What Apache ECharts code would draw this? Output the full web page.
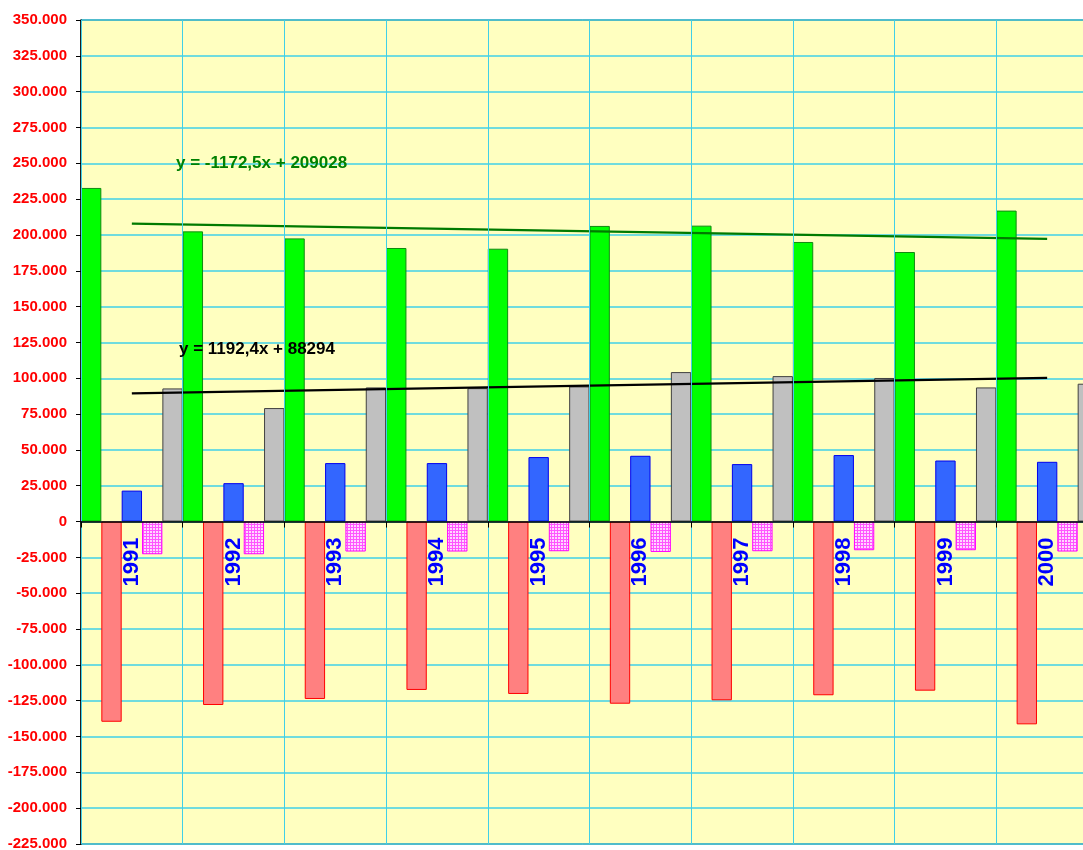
<!DOCTYPE html>
<html>
<head>
<meta charset="utf-8">
<script src="https://cdn.jsdelivr.net/npm/echarts@6/dist/echarts.min.js"></script>
<style>
html,body{margin:0;padding:0;background:#ffffff;}
#chart{width:1083px;height:850px;}
</style>
</head>
<body>
<div id="chart"></div>
<script>
// ---- data ----
var years = ['1991','1992','1993','1994','1995','1996','1997','1998','1999','2000'];
var greenValues = [232800, 202500, 197600, 190900, 190400, 206300, 206500, 195100, 188100, 217000];
var redValues   = [-139700, -128000, -123800, -117500, -120300, -127100, -124700, -121200, -118000, -141500];
var blueValues  = [21600, 26800, 40800, 40800, 45000, 45900, 40100, 46400, 42600, 41700];
var pinkValues  = [-22800, -22800, -20900, -20900, -20700, -21200, -20700, -20000, -20000, -20900];
var greyValues  = [92900, 79200, 93600, 93100, 94300, 104300, 101500, 100200, 93600, 96200];
// trend line end points (first and last category)
var greenTrend = [207855, 197303];
var blackTrend = [89486, 100218];
var greenEquation = 'y = -1172,5x + 209028';
var blackEquation = 'y = 1192,4x + 88294';
var yMin = -225000, yMax = 350000, yStep = 25000;

// ---- pattern for the dotted pink series ----
var pc = document.createElement('canvas');
pc.width = 3; pc.height = 3;
var pctx = pc.getContext('2d');
pctx.fillStyle = '#FF55FF';
pctx.fillRect(0, 0, 3, 3);
pctx.fillStyle = '#FFD6FF';
pctx.fillRect(0, 0, 2, 2);

var font = "'Liberation Sans', Arial, sans-serif";
var gridColor = '#40D0E8';
var GRID_TOP = 20, GRID_BOTTOM = 6, CHART_H = 850;

function fmt(v) {
  if (v === 0) return '0';
  var neg = v < 0;
  var s = String(Math.abs(v)).replace(/\B(?=(\d{3})+(?!\d))/g, '.');
  return (neg ? '-' : '') + s;
}

var chart = echarts.init(document.getElementById('chart'), null, {renderer: 'canvas'});

function barSeries(name, data, fill, border) {
  return {
    name: name, type: 'bar', data: data,
    barGap: '0%', barCategoryGap: '0%',
    itemStyle: {color: fill, borderColor: border, borderWidth: 1},
    emphasis: {disabled: true}
  };
}

chart.setOption({
  animation: false,
  backgroundColor: '#ffffff',
  grid: {
    left: 81, top: GRID_TOP, right: -15, bottom: GRID_BOTTOM,
    containLabel: false, outerBoundsMode: 'none',
    show: true, backgroundColor: '#FFFFC0',
    borderColor: '#000000', borderWidth: 1
  },
  xAxis: {
    type: 'category',
    data: years,
    boundaryGap: true,
    offset: 0,
    axisLine: {onZero: false, lineStyle: {color: '#000000', width: 1.5}},
    axisTick: {show: true, length: 6, lineStyle: {color: '#000000'}},
    axisLabel: {
      rotate: 90, margin: 16, color: '#0000FF',
      fontFamily: font, fontWeight: 'bold', fontSize: 22
    },
    splitLine: {show: true, lineStyle: {color: gridColor, width: 1}},
    z: 10
  },
  yAxis: {
    type: 'value',
    min: yMin, max: yMax, interval: yStep,
    axisLine: {show: true, onZero: false, lineStyle: {color: '#000000', width: 1.5}},
    axisTick: {show: true, length: 5, lineStyle: {color: '#000000'}},
    axisLabel: {
      margin: 14, color: '#FF0000',
      fontFamily: font, fontWeight: 'bold', fontSize: 15,
      formatter: fmt
    },
    splitLine: {show: true, lineStyle: {color: gridColor, width: 1.5}}
  },
  series: [
    barSeries('green', greenValues, '#00FF00', '#118811'),
    barSeries('red', redValues, '#FF8080', '#FF0000'),
    barSeries('blue', blueValues, '#3366FF', '#0000EE'),
    barSeries('pink', pinkValues, {image: pc, repeat: 'repeat'}, '#FF00FF'),
    barSeries('grey', greyValues, '#C0C0C0', '#404040'),
    {
      name: 'greenTrend', type: 'line', symbol: 'none',
      data: [[0, greenTrend[0]], [years.length - 1, greenTrend[1]]],
      lineStyle: {color: '#007A00', width: 2.2}, z: 5
    },
    {
      name: 'blackTrend', type: 'line', symbol: 'none',
      data: [[0, blackTrend[0]], [years.length - 1, blackTrend[1]]],
      lineStyle: {color: '#000000', width: 2.2}, z: 5
    }
  ],
  graphic: [
    {
      type: 'text', left: 176, top: 155, z: 100,
      style: {text: greenEquation, fill: '#008000', font: 'bold 17px ' + font}
    },
    {
      type: 'text', left: 179, top: 341, z: 100,
      style: {text: blackEquation, fill: '#000000', font: 'bold 17px ' + font}
    }
  ]
});

// move the category axis (line, ticks, labels) onto the zero line
var zeroY = chart.convertToPixel({yAxisIndex: 0}, 0);
var bottomY = CHART_H - GRID_BOTTOM;
chart.setOption({xAxis: {offset: zeroY - bottomY}});
</script>
</body>
</html>
